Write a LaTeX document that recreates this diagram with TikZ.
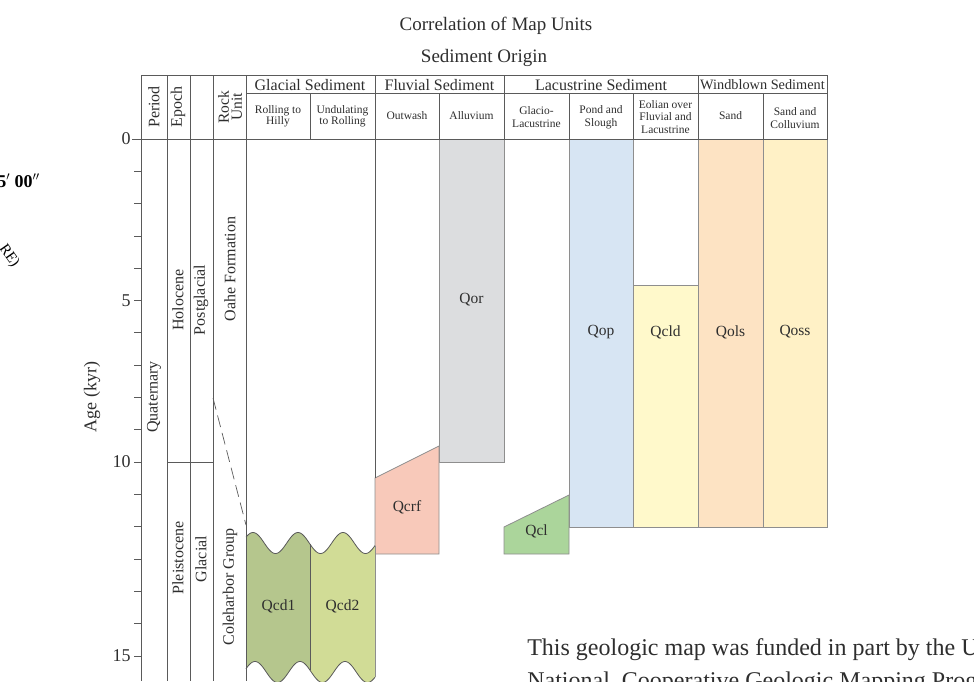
\documentclass[tikz,border=0pt]{standalone}
\usepackage{fontspec}
\setmainfont{Liberation Serif}
\usepackage{tikz}
\usetikzlibrary{positioning}
\definecolor{framegray}{HTML}{5A5A5A}
\definecolor{boxgray}{HTML}{8E8E8E}
\definecolor{inkgray}{HTML}{2E2E2E}
\definecolor{qorfill}{HTML}{DCDDDF}
\definecolor{qopfill}{HTML}{D7E5F3}
\definecolor{qcldfill}{HTML}{FFF9CB}
\definecolor{qolsfill}{HTML}{FDE3C3}
\definecolor{qossfill}{HTML}{FFF1C6}
\definecolor{qcrffill}{HTML}{F8C9BA}
\definecolor{qclfill}{HTML}{ABD59B}
\definecolor{qcdonefill}{HTML}{B5C68D}
\definecolor{qcdtwofill}{HTML}{D1DC96}

\begin{document}
\begin{tikzpicture}[x=1pt,y=-1pt,semithick,
    frame/.style={draw=framegray,line width=0.8pt},
    unit/.style={draw=boxgray,line width=0.8pt},
    wave/.style={draw=framegray,line width=0.8pt},
    contact/.style={draw=framegray,line width=0.7pt,dash pattern=on 12pt off 6pt},
    title/.style={font=\fontsize{19}{22}\selectfont,text=inkgray,inner sep=0pt},
    group/.style={font=\fontsize{16}{18}\selectfont,text=inkgray,inner sep=0pt},
    sub/.style={font=\fontsize{11.5}{12.5}\selectfont,text=inkgray,align=center,inner sep=0pt},
    tightsub/.style={sub,font=\fontsize{11.5}{9}\selectfont},
    side/.style={font=\fontsize{16}{13}\selectfont,text=inkgray,rotate=90,align=center,inner sep=0pt},
    lbl/.style={font=\fontsize{15.5}{17}\selectfont,text=inkgray,inner sep=0pt},
    age/.style={font=\fontsize{18}{20}\selectfont,text=inkgray,anchor=east,inner sep=0pt}]
    \useasboundingbox (0,0) rectangle (974,681);

    % clipped text from the map sheet
    \node [font=\bfseries\fontsize{18}{20}\selectfont,anchor=base west,inner sep=0pt] at (-3,187) (deg) {5$^{\prime}$ 00$^{\prime\prime}$};
    \node [font=\fontsize{15}{16}\selectfont,rotate=-55,inner sep=0pt] at (9,256) (re) {RE)};

    % titles
    \node [title] at (496,26) (corr) {Correlation of Map Units};
    \node [title] at (484,58) (origin) {Sediment Origin};

    % colored units
    \filldraw [unit,fill=qorfill]  (439,139) rectangle (504,462);
    \filldraw [unit,fill=qopfill]  (569,139) rectangle (633,527);
    \filldraw [unit,fill=qcldfill] (633,285) rectangle (698,527);
    \filldraw [unit,fill=qolsfill] (698,139) rectangle (763,527);
    \filldraw [unit,fill=qossfill] (763,139) rectangle (827,527);
    \filldraw [unit,fill=qcrffill] (375,478) -- (439,446) -- (439,554) -- (375,554) -- cycle;
    \filldraw [unit,fill=qclfill]  (504,527) -- (569,495) -- (569,554) -- (504,554) -- cycle;

    % Qcd1 and Qcd2 with wavy tops and bottoms (period 45, so 8 deg per unit)
    \fill [qcdonefill] plot[domain=246:310,samples=60] (\x,{543-10.5*cos(8*(\x-253))})
        -- plot[domain=310:246,samples=60] (\x,{672-10.5*cos(8*(\x-255))}) -- cycle;
    \fill [qcdtwofill] plot[domain=310:375,samples=60] (\x,{543-10.5*cos(8*(\x-253))})
        -- plot[domain=375:310,samples=60] (\x,{672-10.5*cos(8*(\x-255))}) -- cycle;
    \draw [wave] plot[domain=246:375,samples=150] (\x,{543-10.5*cos(8*(\x-253))});
    \draw [wave] plot[domain=246:375,samples=150] (\x,{672-10.5*cos(8*(\x-255))});
    \draw [wave] (310,544) -- (310,670);
    \draw [unit] (375,545.5) -- (375,677);

    % frame and column lines
    \draw [frame] (141,75) rectangle (827,139);
    \draw [frame] (246,93) -- (827,93);
    \draw [frame] (132,139) -- (141,139);
    \foreach \x in {141,167,190,213,246}
        \draw [frame] (\x,75) -- (\x,681);
    \foreach \x in {375,504,698}
        \draw [frame] (\x,75) -- (\x,139);
    \foreach \x in {310,439,569,633,763}
        \draw [frame] (\x,93) -- (\x,139);
    \draw [frame] (375,139) -- (375,478);
    \draw [frame] (167,462) -- (213,462);

    % age axis
    \foreach \k in {1,...,16}
        \draw [frame] (134,{139+\k*32.31}) -- (141,{139+\k*32.31});
    \node [age] at (131,139) (a0) {0};
    \node [age] at (131,300.5) (a5) {5};
    \node [age] at (131,462) (a10) {10};
    \node [age] at (131,656) (a15) {15};
    \node [age,anchor=center,rotate=90] at (92,397) (agelabel) {Age (kyr)};

    % contact between formations
    \coordinate (ctop) at (213,398);
    \coordinate (cbot) at (246,525);
    \draw [contact] (ctop) -- (cbot);

    % header labels
    \node [side] at (154,107) (period) {Period};
    \node [side] at (178,107) (epoch) {Epoch};
    \node [side,font=\fontsize{15.5}{13}\selectfont] at (230,107) (rock) {Rock\\Unit};
    \node [group] at (310,85) (glacial) {Glacial Sediment};
    \node [group] at (439.5,85) (fluvial) {Fluvial Sediment};
    \node [group] at (601,85) (lacustrine) {Lacustrine Sediment};
    \node [group,font=\fontsize{14.3}{16}\selectfont] at (762.5,85) (windblown) {Windblown Sediment};
    \node [tightsub] at (278,116) (rolling) {Rolling to\\Hilly};
    \node [tightsub] at (342.5,116) (undulating) {Undulating\\to Rolling};
    \node [sub] at (407,116) (outwash) {Outwash};
    \node [sub] at (471.5,116) (alluvium) {Alluvium};
    \node [sub] at (536.5,117) (glacio) {Glacio-\\Lacustrine};
    \node [sub] at (601,117) (pond) {Pond and\\Slough};
    \node [sub] at (665.5,117) (eolian) {Eolian over\\Fluvial and\\Lacustrine};
    \node [sub] at (730.5,116) (sand) {Sand};
    \node [sub] at (795,118) (colluvium) {Sand and\\Colluvium};

    % time and rock units
    \node [side] at (154,397) (quat) {Quaternary};
    \node [side] at (178,300) (holo) {Holocene};
    \node [side] at (201,300) (postgl) {Postglacial};
    \node [side] at (230,269) (oahe) {Oahe Formation};
    \node [side] at (178,558) (pleist) {Pleistocene};
    \node [side] at (201,559) (glac) {Glacial};
    \node [side] at (230,587) (cole) {Coleharbor Group};

    % map unit labels
    \node [lbl] at (471.5,300) (qor) {Qor};
    \node [lbl] at (601,332) (qop) {Qop};
    \node [lbl] at (665.5,332) (qcld) {Qcld};
    \node [lbl] at (730.5,332) (qols) {Qols};
    \node [lbl] at (795,332) (qoss) {Qoss};
    \node [lbl] at (407,507) (qcrf) {Qcrf};
    \node [lbl] at (536.5,531) (qcl) {Qcl};
    \node [lbl] at (278.5,606) (qcd1) {Qcd1};
    \node [lbl] at (342.5,606) (qcd2) {Qcd2};

    % funding note, cut by the sheet edge
    \node [font=\fontsize{24}{33}\selectfont,text=inkgray,anchor=base west,align=left,inner sep=0pt] at (527,688) (note)
        {This geologic map was funded in part by the U\\National\ \ Cooperative Geologic Mapping Prog};
\end{tikzpicture}
\end{document}
